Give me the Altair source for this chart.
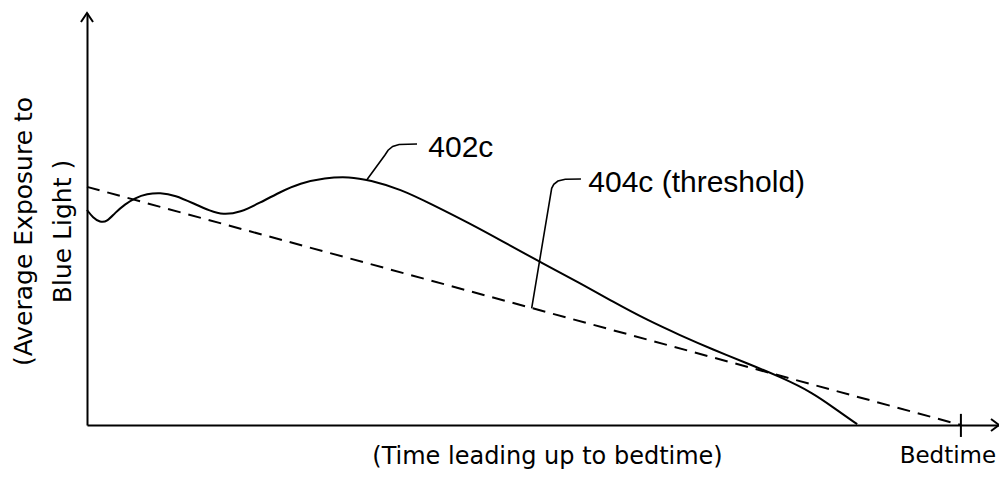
import altair as alt
import pandas as pd

# ---- data (arbitrary units: time 0..100, exposure 0..100) ----
curve_t = [0, 0.65, 1.42, 2.18, 3.05, 4.14, 5.23, 6.54, 7.95, 9.59, 11.76, 13.4,
           14.8, 16.7, 18.8, 21.0, 23.2, 25.9, 28.6, 30.8, 34.1, 37.7, 41.7, 45.0,
           49.3, 53.7, 57.3, 61.0, 64.6, 68.2, 71.9, 75.5, 79.1, 81.7, 83.9]
curve_e = [52.2, 50.3, 49.2, 49.3, 51.5, 53.6, 55.1, 56.1, 56.4, 55.8, 53.6, 52.0,
           51.0, 51.6, 53.9, 56.5, 58.7, 60.0, 60.3, 59.4, 57.3, 53.4, 48.9, 44.9,
           39.6, 34.5, 29.9, 25.5, 21.8, 18.3, 15.0, 11.7, 7.8, 3.6, 0.2]

threshold_t = [0, 95.2]
threshold_e = [57.8, 0]

bedtime_t = 95.2
bedtime_tick_e = [-2.9, 2.7]

leader_402_t = [30.47, 32.46, 32.80, 33.30, 34.00, 35.95]
leader_402_e = [59.47, 65.53, 66.70, 67.60, 68.10, 68.20]
leader_404_t = [48.44, 50.62, 50.85, 51.30, 52.10, 53.81]
leader_404_e = [28.33, 57.45, 58.40, 59.20, 59.65, 59.71]

label_text = ["402c", "404c (threshold)"]
label_t = [37.18, 54.61]
label_e = [65.12, 56.55]

bedtime_label = "Bedtime"
bedtime_label_e = -9.2

x_max = 99.35   # right end of the time axis (arrow tip)
y_max = 100     # top end of the exposure axis (arrow tip)

x_title = "(Time leading up to bedtime)"
y_title = ["(Average Exposure to", "Blue Light )"]

TITLE_FONT = "DejaVu Sans"
NOTE_FONT = "Liberation Sans"

# ---- tables ----
df_curve = pd.DataFrame({"t": curve_t, "e": curve_e})
df_thr = pd.DataFrame({"t": threshold_t, "e": threshold_e})
df_tick = pd.DataFrame({"t": [bedtime_t], "e": [bedtime_tick_e[0]], "e2": [bedtime_tick_e[1]]})
df_lead = pd.concat([
    pd.DataFrame({"t": leader_402_t, "e": leader_402_e, "id": "402c"}),
    pd.DataFrame({"t": leader_404_t, "e": leader_404_e, "id": "404c"}),
])
df_lab = pd.DataFrame({"t": label_t, "e": label_e, "txt": label_text})
df_bed = pd.DataFrame({"t": [bedtime_t], "e": [bedtime_label_e], "txt": [bedtime_label]})
df_yarrow = pd.DataFrame({"t": [0], "e": [y_max]})
df_xarrow = pd.DataFrame({"t": [x_max], "e": [0]})

xs = alt.Scale(domain=[0, x_max], nice=False, zero=False)
ys = alt.Scale(domain=[0, y_max], nice=False, zero=False)

xaxis = alt.Axis(labels=False, ticks=False, grid=False, domain=True,
                 domainColor="black", domainWidth=2,
                 title=x_title, titleFont=TITLE_FONT, titleFontSize=24,
                 titleFontWeight="normal", titleColor="black",
                 titleX=460, titleY=38, titleAlign="center",
                 titleBaseline="alphabetic", titleAngle=0)
yaxis = alt.Axis(labels=False, ticks=False, grid=False, domain=True,
                 domainColor="black", domainWidth=2,
                 title=y_title, titleFont=TITLE_FONT, titleFontSize=25,
                 titleFontWeight="normal", titleColor="black",
                 titleX=-56, titleY=218, titleAlign="center",
                 titleBaseline="alphabetic", titleAngle=270, titleLineHeight=39)

X = alt.X("t:Q", scale=xs, axis=xaxis)
Y = alt.Y("e:Q", scale=ys, axis=yaxis)

curve = alt.Chart(df_curve).mark_line(color="black", strokeWidth=2,
                                      interpolate="basis").encode(x=X, y=Y)
thr = alt.Chart(df_thr).mark_line(color="black", strokeWidth=2,
                                  strokeDash=[13, 8]).encode(x=X, y=Y)
tick = alt.Chart(df_tick).mark_rule(color="black", strokeWidth=2).encode(
    x=X, y=Y, y2="e2:Q")
leads = alt.Chart(df_lead).mark_line(color="black", strokeWidth=1.6,
                                     interpolate="linear").encode(
    x=X, y=Y, detail="id:N")
labels = alt.Chart(df_lab).mark_text(font=NOTE_FONT, fontSize=30, align="left",
                                     baseline="alphabetic", color="black").encode(
    x=X, y=Y, text="txt:N")
bed = alt.Chart(df_bed).mark_text(font=TITLE_FONT, fontSize=23, align="center",
                                  baseline="alphabetic", color="black", dx=-13).encode(
    x=X, y=Y, text="txt:N")
yarrow = alt.Chart(df_yarrow).mark_point(
    shape="M-0.67,1 L0,0 L0.67,1", size=324, filled=False,
    color="black", strokeWidth=2, opacity=1).encode(x=X, y=Y)
xarrow = alt.Chart(df_xarrow).mark_point(
    shape="M-1,-0.75 L0,0 L-1,0.75", size=256, filled=False,
    color="black", strokeWidth=2, opacity=1).encode(x=X, y=Y)

chart = alt.layer(curve, thr, tick, leads, labels, bed, yarrow, xarrow).properties(
    width=912, height=412,
    autosize=alt.AutoSizeParams(type="none"),
    padding={"left": 79, "top": 5, "right": 0, "bottom": 44},
    background="white",
).configure_view(stroke=None)

chart.save("out.html", embed_options={"renderer": "svg", "actions": False})
